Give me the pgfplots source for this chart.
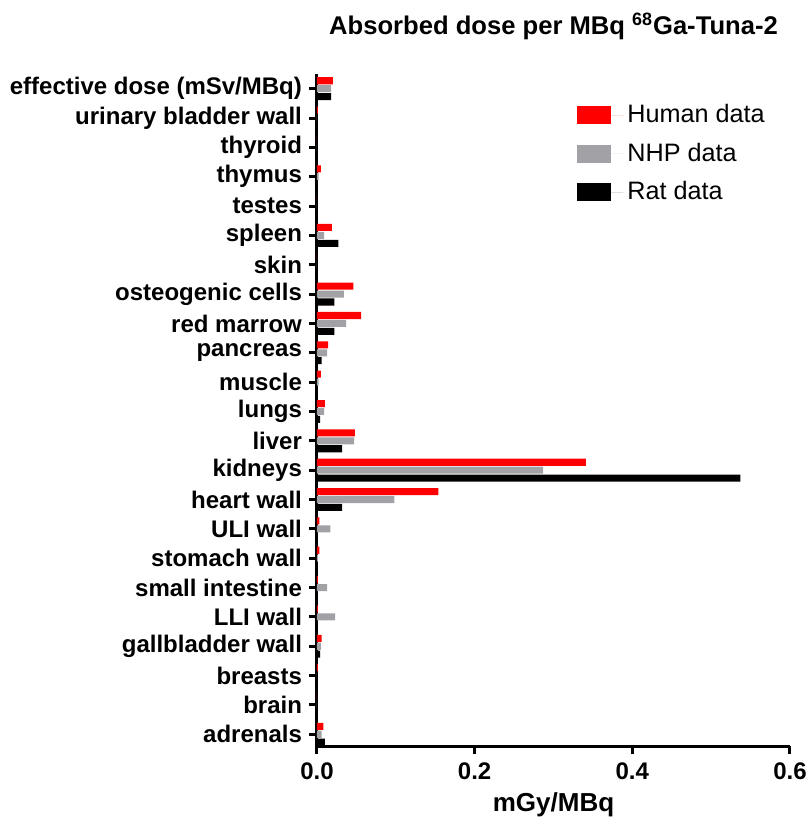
\documentclass[border=0pt]{standalone}
\usepackage{fontspec}
\setmainfont{Liberation Sans}
\usepackage{pgfplots}
\usepackage{pgfplotstable}
\pgfplotsset{compat=1.18}

\definecolor{humanred}{HTML}{FF0000}
\definecolor{nhpgray}{HTML}{A2A1A6}

% organ index (bottom to top), human, NHP, rat
\pgfplotstableread{
idx human nhp   rat
0   0.008 0.006 0.010
1   0.000 0.000 0.000
2   0.001 0.000 0.000
3   0.006 0.005 0.004
4   0.001 0.023 0.001
5   0.001 0.013 0.001
6   0.003 0.001 0.001
7   0.003 0.017 0.001
8   0.154 0.098 0.032
9   0.341 0.287 0.537
10  0.048 0.047 0.032
11  0.010 0.009 0.004
12  0.005 0.002 0.000
13  0.014 0.013 0.006
14  0.056 0.037 0.022
15  0.046 0.034 0.022
16  0.000 0.000 0.000
17  0.019 0.009 0.027
18  0.000 0.000 0.000
19  0.005 0.002 0.000
20  0.000 0.000 0.000
21  0.001 0.000 0.000
22  0.020 0.018 0.018
}\dosedata

\begin{document}
\begin{tikzpicture}
% page frame, same margins as the reference
\useasboundingbox (-158.5pt,-40pt) rectangle (247.5pt,373pt);
\begin{axis}[
    scale only axis,
    anchor=south west,
    at={(0,0)},
    width=236.5pt,
    height=336pt,
    xbar,
    bar width=0.24,
    xmin=0, xmax=0.6,
    ymin=-0.4, ymax=22.5,
    axis x line*=bottom,
    axis y line*=left,
    axis line style={line width=1.5pt, -},
    every tick/.style={line width=1.5pt, black},
    major tick length=4pt,
    tick align=outside,
    xtick={0,0.2,0.4,0.6},
    ytick={0,...,22},
    yticklabels={adrenals, brain, breasts, gallbladder wall, LLI wall,
        small intestine, stomach wall, ULI wall, heart wall, kidneys, liver,
        lungs, muscle, pancreas, red marrow, osteogenic cells, skin, spleen,
        testes, thymus, thyroid, urinary bladder wall,
        effective dose (mSv/MBq)},
    ticklabel style={font=\bfseries\fontsize{12}{14}\selectfont},
    /pgf/number format/assume math mode=true,
    xticklabel style={yshift=-1pt, /pgf/number format/.cd, fixed, fixed zerofill, precision=1},
    minor tick num=0,
    xlabel={mGy/MBq},
    xlabel style={font=\bfseries\fontsize{13}{15}\selectfont,
        at={(axis description cs:0.5,0)}, anchor=base, yshift=-32.5pt},
    title={Absorbed dose per MBq \textsuperscript{68}Ga-Tuna-2},
    title style={font=\bfseries\fontsize{12.8}{15}\selectfont,
        at={(axis description cs:0.5,1)}, anchor=base, yshift=14pt},
    legend cell align=left,
    legend style={
        at={(0.537,0.967)}, anchor=north west,
        draw=none, fill=none,
        font=\fontsize{12.6}{15}\selectfont,
        row sep=4.6pt,
    },
    legend image code/.code={
        \fill[#1] (0pt,-4.5pt) rectangle (17pt,4.5pt);
        \path (0pt,0pt) -- (23pt,0pt);
    },
    clip=false,
]
\addplot[fill=humanred, draw=none, bar shift=0.27]
    table[x=human, y=idx] {\dosedata};
\addlegendentry{Human data}
\addplot[fill=nhpgray, draw=none, bar shift=0]
    table[x=nhp, y=idx] {\dosedata};
\addlegendentry{NHP data}
\addplot[fill=black, draw=none, bar shift=-0.27]
    table[x=rat, y=idx] {\dosedata};
\addlegendentry{Rat data}
\end{axis}
\end{tikzpicture}
\end{document}
